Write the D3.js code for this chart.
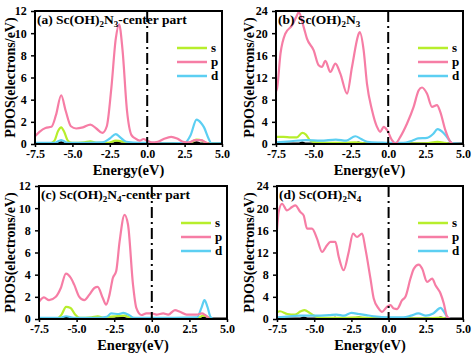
<!DOCTYPE html>
<html><head><meta charset="utf-8">
<script src="https://cdn.jsdelivr.net/npm/d3@7"></script>
<style>html,body{margin:0;padding:0;background:#fff;}svg{display:block;}</style>
</head><body>
<svg id="c" width="474" height="357"></svg>
<script>
// ---------- DATA ----------
const xTicks = [-7.5, -5.0, -2.5, 0.0, 2.5, 5.0];
const yTicksSmall = [0, 2, 4, 6, 8, 10, 12];
const yTicksLarge = [0, 4, 8, 12, 16, 20, 24];
const legendLabels = ["s", "p", "d"];
const panelTitles = ["(a) Sc(OH)", "(b) Sc(OH)", "(c) Sc(OH)", "(d) Sc(OH)"];

// panel (a) Sc(OH)2N3-center part
const aS = [[-7.5,0.05],[-6.5,0.05],[-6.2,0.3],[-5.95,1.2],[-5.75,1.5],[-5.55,1.1],[-5.3,0.3],[-5.0,0.1],[-4.2,0.15],[-3.8,0.25],[-3.4,0.1],[-2.6,0.1],[-2.1,0.3],[-1.6,0.2],[-1.2,0.05],[0,0.02],[2.5,0.02],[3.0,0.2],[3.3,0.4],[3.7,0.3],[4.0,0.05],[5,0]];
const aP = [[-7.5,0.7],[-7.2,1.1],[-6.8,1.45],[-6.4,1.55],[-6.1,2.6],[-5.75,4.4],[-5.45,3.0],[-5.1,1.6],[-4.75,1.4],[-4.3,1.5],[-3.8,1.75],[-3.4,1.4],[-3.0,1.0],[-2.7,1.6],[-2.4,5.0],[-2.1,9.5],[-1.88,10.8],[-1.65,8.5],[-1.35,3.0],[-1.05,0.8],[-0.8,0.5],[-0.5,0.3],[-0.25,0.45],[0,0.3],[0.3,0.15],[0.7,0.2],[1.1,0.45],[1.6,0.65],[2.0,0.5],[2.4,0.2],[2.8,0.15],[3.2,0.35],[3.6,0.35],[3.9,0.15],[4.2,0],[5,0]];
const aD = [[-7.5,0.1],[-6.2,0.1],[-5.75,0.35],[-5.3,0.1],[-3.0,0.15],[-2.5,0.5],[-2.1,0.9],[-1.8,0.6],[-1.4,0.2],[-0.5,0.1],[0,0.1],[1,0.05],[2.5,0.1],[2.9,0.8],[3.3,2.2],[3.6,1.9],[3.8,1.5],[4.1,0.5],[4.3,0.05],[5,0.05]];
const aK = [[-7.5,0],[-6.0,0],[-5.75,0.12],[-5.5,0],[-2.3,0],[-2.0,0.12],[-1.7,0],[3.0,0],[3.3,0.12],[3.6,0],[5,0]];

// panel (b) Sc(OH)2N3
const bS = [[-7.5,1.3],[-7.0,1.3],[-6.5,1.2],[-6.1,1.2],[-5.75,2.0],[-5.5,1.7],[-5.2,0.6],[-4.8,0.3],[-3,0.2],[-2.2,0.3],[-1.5,0.1],[0,0.05],[2.5,0.1],[3.3,0.4],[3.8,0.2],[4.2,0],[5,0]];
const bP = [[-7.5,9.5],[-7.43,10.0],[-7.2,16.3],[-6.88,19.9],[-6.43,21.4],[-6.1,23.2],[-5.98,23.8],[-5.65,21.1],[-5.43,19.0],[-4.98,16.9],[-4.65,14.2],[-4.43,13.9],[-4.2,15.0],[-3.87,13.0],[-3.53,14.5],[-3.2,12.7],[-2.75,9.1],[-2.42,13.9],[-1.97,19.9],[-1.9,20.2],[-1.64,16.9],[-1.42,10.9],[-1.08,6.1],[-0.75,3.1],[-0.53,2.2],[-0.3,3.1],[-0.07,2.5],[0.25,0.7],[0.48,0.1],[0.81,1.3],[1.26,3.7],[1.7,6.7],[2.04,9.7],[2.26,10.2],[2.59,9.1],[2.93,6.7],[3.26,7.0],[3.48,5.8],[3.82,2.5],[4.15,0.4],[4.38,0],[5,0]];
const bD = [[-7.5,0.3],[-6.5,0.5],[-5.5,0.7],[-4.5,0.6],[-3.5,0.8],[-2.8,0.6],[-2.2,1.4],[-1.8,0.9],[-1.4,0.4],[-0.5,0.25],[0,0.2],[1,0.2],[1.6,0.6],[2.0,1.0],[2.6,1.1],[3.0,1.8],[3.3,2.7],[3.7,2.0],[4.0,1.0],[4.3,0.1],[5,0]];
const bK = [[-7.5,0],[-6.0,0],[-5.75,0.2],[-5.5,0],[-2.3,0],[-2.0,0.2],[-1.7,0],[3.0,0],[3.3,0.3],[3.6,0],[5,0]];

// panel (c) Sc(OH)2N4-center part
const cS = [[-7.5,0.05],[-6.3,0.05],[-6.0,0.4],[-5.7,1.1],[-5.4,1.0],[-5.1,0.4],[-4.8,0.1],[-4.0,0.15],[-3.6,0.25],[-3.2,0.1],[-2.8,0.2],[-2.4,0.25],[-1.8,0.3],[-1.4,0.1],[0,0.05],[3.0,0.05],[3.4,0.3],[3.7,0.2],[3.9,0],[5,0]];
const cP = [[-7.5,1.56],[-7.17,1.95],[-6.83,1.7],[-6.38,2.0],[-6.05,2.8],[-5.71,4.1],[-5.38,3.7],[-5.16,3.1],[-4.82,2.0],[-4.49,1.7],[-4.15,2.2],[-3.82,2.8],[-3.6,2.9],[-3.26,1.9],[-3.04,1.3],[-2.81,2.2],[-2.59,3.7],[-2.37,4.3],[-2.14,7.0],[-1.81,9.4],[-1.58,8.5],[-1.25,3.1],[-1.03,1.0],[-0.69,0.36],[-0.36,0.5],[0,0.5],[0.31,0.4],[0.76,0.5],[1.09,0.4],[1.54,0.8],[1.87,0.66],[2.32,0.4],[2.99,0.4],[3.33,0.5],[3.55,0.36],[3.88,0],[5,0]];
const cD = [[-7.5,0.1],[-6.1,0.1],[-5.7,0.25],[-5.2,0.1],[-3.6,0.1],[-3.0,0.2],[-2.7,0.5],[-2.2,0.45],[-1.9,0.55],[-1.5,0.35],[-1.2,0.1],[0,0.1],[3.0,0.15],[3.3,1.0],[3.5,1.7],[3.7,1.1],[3.9,0.2],[4.1,0],[5,0]];
const cK = [[-7.5,0],[-6.0,0],[-5.7,0.12],[-5.4,0],[-3.8,0],[-3.6,0.08],[-3.4,0],[-2.6,0],[-2.1,0.12],[-1.6,0],[3.2,0],[3.5,0.1],[3.7,0],[5,0]];

// panel (d) Sc(OH)2N4
const dS = [[-7.5,1.2],[-7.3,1.4],[-6.8,0.9],[-6.3,0.8],[-5.9,1.4],[-5.65,1.6],[-5.3,1.1],[-5.0,0.6],[-4.5,0.2],[-3.0,0.2],[-2.0,0.3],[-1.0,0.1],[0,0.05],[2.5,0.1],[3.5,0.25],[4.0,0],[5,0]];
const dP = [[-7.5,16.0],[-7.39,19.3],[-7.16,20.8],[-6.83,19.6],[-6.49,20.2],[-6.27,20.5],[-5.93,19.3],[-5.71,18.7],[-5.48,16.3],[-5.15,16.3],[-4.81,14.5],[-4.47,12.1],[-4.14,13.3],[-3.91,13.9],[-3.58,13.9],[-3.35,11.2],[-3.02,8.8],[-2.68,12.1],[-2.39,15.4],[-2.12,14.8],[-1.78,15.4],[-1.56,12.7],[-1.22,7.3],[-1.0,3.7],[-0.67,1.9],[-0.44,1.3],[-0.11,2.2],[0.12,2.5],[0.35,1.9],[0.57,1.8],[0.91,3.4],[1.13,4.0],[1.47,7.3],[1.7,9.1],[2.03,9.8],[2.25,9.1],[2.59,6.7],[2.93,7.3],[3.15,6.1],[3.49,4.6],[3.71,2.8],[3.93,0.4],[4.16,0],[5,0]];
const dD = [[-7.5,0.3],[-7,0.4],[-6,0.6],[-5,0.6],[-4,0.7],[-3.5,0.8],[-3,0.6],[-2.5,1.1],[-2,0.9],[-1.5,0.7],[-1,0.5],[0,0.3],[1,0.3],[1.5,0.6],[2.0,1.0],[2.5,0.6],[3.0,1.0],[3.5,2.0],[3.7,1.4],[4.0,0.2],[4.2,0],[5,0]];
const dK = [[-7.5,0],[-6.0,0],[-5.7,0.2],[-5.4,0],[-4.0,0],[-3.6,0.15],[-3.2,0],[-2.4,0],[-2.0,0.2],[-1.6,0],[3.2,0],[3.5,0.2],[3.8,0],[5,0]];

// ---------- LAYOUT / STYLE ----------
const colors = {s:"#b7ee2c", p:"#f67da5", d:"#5ccff2", k:"#000000"};
const FONT = "'Liberation Serif','Times New Roman',serif";

const panels = [
  {box:{l:35,t:11,r:222,b:144}, ymax:12, yt:yTicksSmall, S:aS,P:aP,D:aD,K:aK, title:panelTitles[0], sub1:"2", mid:"N", sub2:"3", tail:"-center part", ylabX:10, legX:177},
  {box:{l:276,t:11,r:463,b:144}, ymax:24, yt:yTicksLarge, S:bS,P:bP,D:bD,K:bK, title:panelTitles[1], sub1:"2", mid:"N", sub2:"3", tail:"", ylabX:249, legX:418},
  {box:{l:39,t:186,r:227,b:319}, ymax:12, yt:yTicksSmall, S:cS,P:cP,D:cD,K:cK, title:panelTitles[2], sub1:"2", mid:"N", sub2:"4", tail:"-center part", ylabX:10, legX:181},
  {box:{l:277,t:186,r:463,b:319}, ymax:24, yt:yTicksLarge, S:dS,P:dP,D:dD,K:dK, title:panelTitles[3], sub1:"2", mid:"N", sub2:"4", tail:"", ylabX:249, legX:418}
];

const svg = d3.select("#c");

panels.forEach((pn, i) => {
  const B = pn.box;
  const x = d3.scaleLinear().domain([-7.5, 5]).range([B.l, B.r]);
  const y = d3.scaleLinear().domain([0, pn.ymax]).range([B.b, B.t]);
  const g = svg.append("g");

  const clipId = "clip" + i;
  g.append("clipPath").attr("id", clipId).append("rect")
    .attr("x", B.l).attr("y", B.t - 1).attr("width", B.r - B.l).attr("height", B.b - B.t + 1);

  const line = d3.line().x(d => x(d[0])).y(d => y(d[1])).curve(d3.curveMonotoneX);
  const cg = g.append("g").attr("clip-path", `url(#${clipId})`);
  [["K", colors.k, 2.8], ["S", colors.s, 2.2], ["D", colors.d, 2.2], ["P", colors.p, 2.2]].forEach(([key, col, w]) => {
    cg.append("path").datum(pn[key]).attr("d", line)
      .attr("fill", "none").attr("stroke", col).attr("stroke-width", w).attr("stroke-linejoin", "round");
  });

  // Fermi level dash-dot
  g.append("line").attr("x1", x(0)).attr("x2", x(0)).attr("y1", B.t).attr("y2", B.b)
    .attr("stroke", "#000").attr("stroke-width", 2).attr("stroke-dasharray", "11,4,2,4");

  // axes
  const xa = d3.axisBottom(x).tickValues(xTicks).tickFormat(d => d.toFixed(1)).tickSize(3).tickPadding(2).tickSizeOuter(0);
  const ya = d3.axisLeft(y).tickValues(pn.yt).tickFormat(d => d).tickSize(4).tickSizeOuter(0);
  const gx = g.append("g").attr("transform", `translate(0,${B.b})`).call(xa);
  const gy = g.append("g").attr("transform", `translate(${B.l},0)`).call(ya);
  [gx, gy].forEach(a => {
    a.select(".domain").remove();
    a.selectAll("line").attr("stroke", "#000").attr("stroke-width", 1.5);
    a.selectAll("text").attr("font-family", FONT).attr("font-weight", "bold").attr("font-size", 12).attr("fill", "#000");
  });
  gx.selectAll("text").attr("dy", "0.75em");
  gy.selectAll("text").attr("dx", "-0.1em");

  // frame
  g.append("rect").attr("x", B.l).attr("y", B.t).attr("width", B.r - B.l).attr("height", B.b - B.t)
    .attr("fill", "none").attr("stroke", "#000").attr("stroke-width", 2);

  // title
  const t = g.append("text").attr("x", B.l + 2).attr("y", B.t + 13)
    .attr("font-family", FONT).attr("font-weight", "bold").attr("font-size", 13.5).attr("fill", "#000");
  t.append("tspan").text(pn.title);
  t.append("tspan").attr("font-size", 9).attr("dy", 3).text(pn.sub1);
  t.append("tspan").attr("dy", -3).text(pn.mid);
  t.append("tspan").attr("font-size", 9).attr("dy", 3).text(pn.sub2);
  t.append("tspan").attr("dy", -3).text(pn.tail);

  // legend
  legendLabels.forEach((lab, j) => {
    const ly = B.t + 37 + j * 14;
    g.append("line").attr("x1", pn.legX).attr("x2", pn.legX + 30).attr("y1", ly).attr("y2", ly)
      .attr("stroke", colors[lab]).attr("stroke-width", 2.5);
    g.append("text").attr("x", pn.legX + 34).attr("y", ly + 4).text(lab)
      .attr("font-family", FONT).attr("font-weight", "bold").attr("font-size", 13).attr("fill", "#000");
  });

  // axis labels
  g.append("text").attr("x", (B.l + B.r) / 2).attr("y", B.b + 31).attr("text-anchor", "middle")
    .attr("font-family", FONT).attr("font-weight", "bold").attr("font-size", 14.5).attr("fill", "#000")
    .text("Energy(eV)");
  g.append("text").attr("transform", `translate(${pn.ylabX + 5},${(B.t + B.b) / 2}) rotate(-90)`)
    .attr("text-anchor", "middle")
    .attr("font-family", FONT).attr("font-weight", "bold").attr("font-size", 14).attr("fill", "#000")
    .text("PDOS(electrons/eV)");
});
</script>
</body></html>
